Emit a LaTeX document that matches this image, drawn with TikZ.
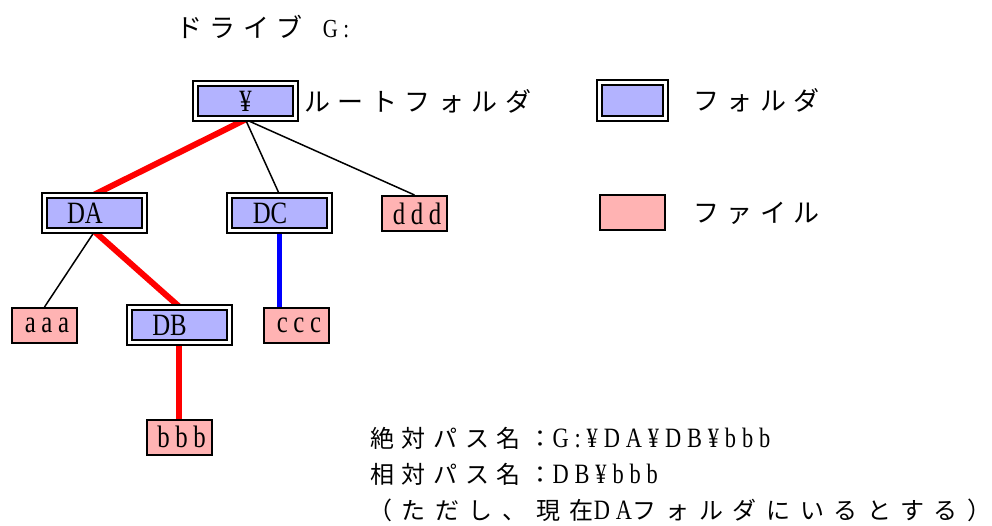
\documentclass[tikz,border=0pt]{standalone}
\usepackage{fontspec}
\newfontfamily\jp[LetterSpace=29]{Noto Sans CJK JP}
\newfontfamily\jpb[LetterSpace=32]{Noto Sans CJK JP}
\newfontfamily\jpc[LetterSpace=40]{Noto Sans CJK JP}
\newfontfamily\lt[FakeStretch=0.8]{Liberation Serif}
\newfontfamily\ltsp[FakeStretch=0.8,LetterSpace=21]{Liberation Serif}
\newfontfamily\ltlow[FakeStretch=0.8,LetterSpace=18]{Liberation Serif}
\usetikzlibrary{backgrounds}
\definecolor{folderblue}{HTML}{B3B3FF}
\definecolor{filepink}{HTML}{FFB3B3}
\begin{document}
\begin{tikzpicture}[x=1pt,y=-1pt,
  folder/.style={draw, line width=2pt, double=white, double distance=3pt,
    fill=folderblue, minimum width=100pt, minimum height=35pt, inner sep=0pt,
    font=\lt\fontsize{31}{31}\selectfont},
  filebox/.style={draw, line width=2pt, fill=filepink, minimum width=65pt,
    minimum height=35pt, inner sep=0pt, font=\ltlow\fontsize{31}{31}\selectfont},
  redline/.style={draw=red, line width=6pt},
  blueline/.style={draw=blue, line width=5pt},
  thinline/.style={draw=black, line width=1.5pt},
  jlabel/.style={anchor=west, inner sep=0pt, font=\jp\fontsize{26}{26}\selectfont},
  jtext/.style={anchor=west, inner sep=0pt, font=\jpb\fontsize{24}{24}\selectfont}]
\useasboundingbox (0,0) rectangle (992,526);

% folders
\node[folder] (root) at (245.5,101) {¥};
\node[folder] (DA) at (94.5,213) {DA\kern19pt};
\node[folder] (DC) at (279.5,213) {DC\kern19pt};
\node[folder] (DB) at (179,325) {DB\kern19pt};
% files
\node[filebox] (ddd) at (414.5,213.5) {\kern5pt ddd};
\node[filebox] (aaa) at (44.5,325.5) {\kern5pt aaa};
\node[filebox] (ccc) at (296.5,325.5) {\kern5pt ccc};
\node[filebox] (bbb) at (179,437) {\kern5pt bbb};
% legend
\node[folder, minimum width=66pt, minimum height=36pt] (legF) at (632.5,100.5) {};
\node[filebox] (legf) at (632.5,213) {};

% connectors
\begin{scope}[on background layer]
\draw[redline] (root.south) -- (DA.north);
\draw[thinline] (root.south) -- (DC.north);
\draw[thinline] (root.south) -- (ddd.north);
\draw[thinline] (DA.south) -- (aaa.north);
\draw[redline] (DA.south) -- (DB.north);
\draw[blueline] (DC.south) -- (DC.south |- ccc.north);
\draw[redline] (DB.south) -- (bbb.north);
\end{scope}

% labels
\node[jlabel] (drive) at (176,27) {ドライブ\kern20pt{\ltsp\fontsize{26}{26}\selectfont G:}};
\node[jlabel] (rootlbl) at (304,101) {ルートフォルダ};
\node[jlabel] (legFlbl) at (693,100) {フォルダ};
\node[jlabel] (legflbl) at (693,213) {ファイル};
\node[jtext] (abs) at (370,438) {絶対パス名：{\ltsp\fontsize{28}{28}\selectfont G:¥DA¥DB¥bbb}};
\node[jtext] (rel) at (370,474) {相対パス名：{\ltsp\fontsize{28}{28}\selectfont DB¥bbb}};
\node[jtext, font=\jpc\fontsize{24}{24}\selectfont] (note) at (368,510) {（ただし、現在{\ltsp\fontsize{28}{28}\selectfont DA}フォルダにいるとする）};
\end{tikzpicture}
\end{document}
